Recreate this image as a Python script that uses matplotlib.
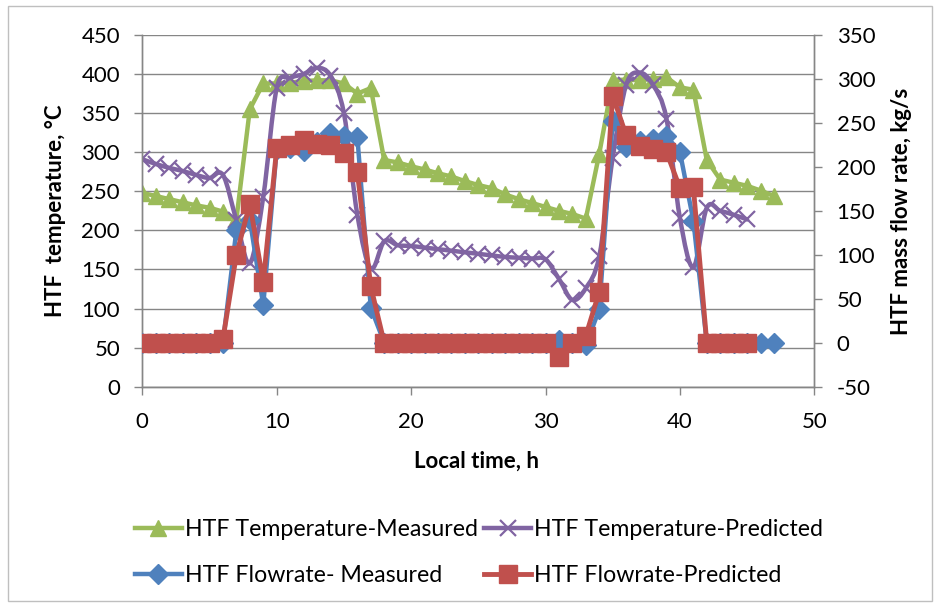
import matplotlib
matplotlib.use("Agg")
import matplotlib.pyplot as plt
from matplotlib.path import Path
from matplotlib.patches import PathPatch, Rectangle
from matplotlib.lines import Line2D

plt.rcParams['font.family'] = ['Lato', 'DejaVu Sans']
plt.rcParams['axes.unicode_minus'] = False

# ---------------- data ----------------
hours_47 = list(range(0, 48))
hours_45 = list(range(0, 46))

temp_measured = [248, 244, 240, 236, 232, 229, 224, 214, 355, 388,
                 388, 389, 391, 392, 392, 388, 375, 382, 290, 287,
                 282, 278, 273, 269, 263, 258, 254, 246, 240, 235,
                 230, 225, 221, 215, 298, 392, 393, 392, 394, 396,
                 383, 380, 290, 265, 261, 257, 251, 244]

temp_predicted = [291, 285, 280, 276, 271, 267, 271, 213, 158, 243,
                  382, 395, 400, 408, 398, 350, 220, 151, 186, 181,
                  180, 178, 176, 174, 172, 170, 168, 166, 165, 164,
                  163, 138, 111, 126, 167, 293, 386, 402, 386, 343,
                  216, 153, 229, 225, 220, 214]

flow_measured = [0, 0, 0, 0, 0, 0, 0, 128, 140, 43,
                 220, 222, 218, 228, 238, 235, 234, 40, 0, 0,
                 0, 0, 0, 0, 0, 0, 0, 0, 0, 0,
                 0, 3, 0, -3, 38, 252, 223, 230, 232, 235,
                 217, 139, 0, 0, 0, 0, 0, 0]

flow_predicted = [0, 0, 0, 0, 0, 0, 4, 100, 158, 69,
                  221, 225, 231, 226, 225, 216, 194, 64, 0, 0,
                  0, 0, 0, 0, 0, 0, 0, 0, 0, 0,
                  0, -16, 0, 8, 58, 281, 236, 224, 220, 217,
                  176, 177, 0, 0, 0, 0]

x_ticks = [0, 10, 20, 30, 40, 50]
left_ticks = list(range(0, 451, 50))
right_ticks = list(range(-50, 351, 50))

labels = ["HTF Temperature-Measured", "HTF Temperature-Predicted",
          "HTF Flowrate- Measured", "HTF Flowrate-Predicted"]

# ---------------- style ----------------
GREEN = "#9BBB59"
PURPLE = "#8064A2"
BLUE = "#4F81BD"
RED = "#C0504D"
GRID = "#868686"
FS = 16.0
LFS = 16.7

W, H = 940, 607
fig = plt.figure(figsize=(W / 100, H / 100), dpi=100)

x0, x1 = 142.3, 814.3
y0, y1 = 386.7, 35.0
ax = fig.add_axes([x0 / W, 1 - y0 / H, (x1 - x0) / W, (y0 - y1) / H])
ax2 = ax.twinx()

ax.set_xlim(0, 50)
ax.set_ylim(0, 450)
ax2.set_ylim(-50, 350)
ax.set_xticks(x_ticks)
ax.set_yticks(left_ticks)
ax2.set_yticks(right_ticks)

ax.yaxis.grid(True, color=GRID, linewidth=1.0)
ax.set_axisbelow(True)

for a in (ax, ax2):
    for s in a.spines.values():
        s.set_color(GRID)
        s.set_linewidth(1.0)
    a.spines['top'].set_visible(False)
    a.tick_params(colors=GRID, labelcolor='black', labelsize=FS, length=6, width=1.0)
ax.tick_params(axis='y', pad=10)
ax.tick_params(axis='x', pad=12)
ax2.tick_params(axis='y', pad=10)

lw = 3.2
# primary series
ax.plot(hours_47, temp_measured, color=GREEN, lw=lw, marker='^', markersize=12,
        markeredgecolor=GREEN, zorder=3)


def smooth_path(xs, ys):
    verts = [(xs[0], ys[0])]
    codes = [Path.MOVETO]
    n = len(xs)
    for i in range(n - 1):
        a = i - 1 if i > 0 else i
        d = i + 2 if i + 2 < n else i + 1
        c1 = (xs[i] + (xs[i + 1] - xs[a]) / 6.0, ys[i] + (ys[i + 1] - ys[a]) / 6.0)
        c2 = (xs[i + 1] - (xs[d] - xs[i]) / 6.0, ys[i + 1] - (ys[d] - ys[i]) / 6.0)
        verts += [c1, c2, (xs[i + 1], ys[i + 1])]
        codes += [Path.CURVE4] * 3
    return Path(verts, codes)


ax.add_patch(PathPatch(smooth_path(hours_45, temp_predicted), facecolor='none',
                       edgecolor=PURPLE, lw=lw, zorder=4, capstyle='round', joinstyle='round'))
ax.plot(hours_45, temp_predicted, linestyle='none', marker='x', markersize=11,
        markeredgewidth=1.6, color=PURPLE, zorder=4)

# secondary series
ax2.plot(hours_47, flow_measured, color=BLUE, lw=lw, marker='D', markersize=10,
         markeredgecolor=BLUE, zorder=3)
ax2.plot(hours_45, flow_predicted, color=RED, lw=3.5, marker='s', markersize=12.5,
         markeredgecolor=RED, zorder=4)

# axis titles
fig.text(55 / W, 1 - 211 / H, "HTF  temperature, \u00b0C", rotation=90, ha='center', va='center',
         fontsize=FS, fontweight='bold')
fig.text(902 / W, 1 - 211 / H, "HTF mass flow rate, kg/s", rotation=90, ha='center', va='center',
         fontsize=FS, fontweight='bold')
fig.text(477 / W, 1 - 461 / H, "Local time, h", ha='center', va='center',
         fontsize=FS, fontweight='bold')

# legend
handles = [
    Line2D([], [], color=GREEN, lw=lw, marker='^', markersize=12),
    Line2D([], [], color=BLUE, lw=lw, marker='D', markersize=10),
    Line2D([], [], color=PURPLE, lw=lw, marker='x', markersize=11, markeredgewidth=1.6),
    Line2D([], [], color=RED, lw=3.5, marker='s', markersize=12.5),
]
leg_labels = [labels[0], labels[2], labels[1], labels[3]]
fig.legend(handles, leg_labels, loc='center', bbox_to_anchor=(479 / W, 1 - 552.5 / H),
           ncol=2, frameon=False, fontsize=LFS, handlelength=2.0, handletextpad=0.13,
           columnspacing=0.3, labelspacing=1.08)

# outer chart border
fig.patches.append(Rectangle((8 / W, 6 / H), (W - 16) / W, (H - 12) / H,
                             transform=fig.transFigure, fill=False,
                             edgecolor="#BFBFBF", lw=1.0))

fig.savefig("out.png", dpi=100)
